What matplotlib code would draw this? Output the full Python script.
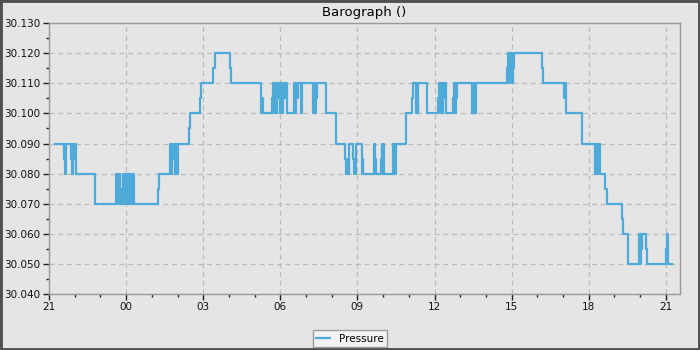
# Barograph: 24h pressure trace drawn as a step line
from datetime import datetime, timedelta

import matplotlib
matplotlib.use("Agg")
from matplotlib import pyplot as plt
from matplotlib import dates as mdates
from matplotlib.patches import Rectangle
from matplotlib.ticker import MultipleLocator, FormatStrFormatter

# hours after 21:00 on the first day, and the reading that starts there (inHg)
hours = [
    0.23, 0.59, 0.62, 0.66, 0.86, 0.89, 0.91, 0.94, 0.97, 1.00, 1.04, 1.79,
    2.61, 2.65, 2.68, 2.72, 2.75, 2.78, 2.82, 2.89, 2.92, 2.95, 2.98, 3.02,
    3.06, 3.09, 3.13, 3.17, 3.21, 3.25, 3.29,
    4.25, 4.29, 4.70, 4.74, 4.78, 4.82, 4.86, 4.90, 4.94, 4.98, 5.02,
    5.45, 5.49, 5.88, 5.92, 6.40, 6.45, 7.05, 7.10,
    8.24, 8.27, 8.31, 8.66, 8.70, 8.74, 8.80, 8.84, 8.88, 8.92, 8.96, 9.00,
    9.04, 9.08, 9.12, 9.16, 9.21, 9.25,
    9.53, 9.57, 9.61, 9.65, 9.68, 9.82, 9.86,
    10.29, 10.33, 10.36, 10.40, 10.44, 10.78, 11.18,
    11.52, 11.55, 11.62, 11.66, 11.69, 11.84, 11.87, 11.93,
    12.17, 12.20, 12.23, 12.66, 12.69, 12.72, 12.92, 12.94, 12.97, 13.00, 13.02,
    13.37, 13.41, 13.44, 13.48, 13.51, 13.90,
    14.12, 14.16, 14.28, 14.31, 14.34, 14.37, 14.72,
    15.15, 15.19, 15.22, 15.26, 15.30, 15.34, 15.38, 15.42, 15.46,
    15.71, 15.74, 15.78, 15.82, 15.85, 15.87,
    16.45, 16.49, 16.52, 16.56, 16.59, 16.63,
    17.83, 17.86, 17.89, 17.92, 17.95, 17.99, 18.02, 18.06, 18.09,
    19.17, 19.22, 20.04, 20.07, 20.10, 20.13, 20.72,
    21.25, 21.28, 21.31, 21.34, 21.38, 21.41, 21.44, 21.65, 21.70,
    22.28, 22.32, 22.52, 22.97, 23.00, 23.03, 23.06, 23.09, 23.23, 23.28,
    24.00, 24.05, 24.09, 24.23,
]
pressure = [
    30.090, 30.085, 30.080, 30.090, 30.085, 30.090, 30.080, 30.090, 30.085, 30.090, 30.080, 30.070,
    30.080, 30.070, 30.080, 30.070, 30.080, 30.075, 30.070, 30.080, 30.070, 30.080, 30.070, 30.080,
    30.070, 30.080, 30.070, 30.080, 30.070, 30.080, 30.070,
    30.075, 30.080, 30.090, 30.080, 30.090, 30.085, 30.090, 30.080, 30.090, 30.080, 30.090,
    30.095, 30.100, 30.105, 30.110, 30.115, 30.120, 30.115, 30.110,
    30.100, 30.105, 30.100, 30.105, 30.110, 30.100, 30.110, 30.100, 30.110, 30.105, 30.110, 30.100,
    30.110, 30.100, 30.110, 30.105, 30.110, 30.100,
    30.110, 30.100, 30.110, 30.105, 30.110, 30.100, 30.110,
    30.100, 30.110, 30.100, 30.105, 30.110, 30.100, 30.090,
    30.085, 30.080, 30.085, 30.080, 30.090, 30.085, 30.080, 30.090,
    30.080, 30.085, 30.080, 30.090, 30.085, 30.080, 30.085, 30.090, 30.080, 30.090, 30.080,
    30.090, 30.080, 30.090, 30.080, 30.090, 30.100,
    30.105, 30.110, 30.100, 30.105, 30.100, 30.110, 30.100,
    30.105, 30.110, 30.100, 30.110, 30.100, 30.110, 30.105, 30.110, 30.100,
    30.105, 30.110, 30.100, 30.110, 30.105, 30.110,
    30.100, 30.110, 30.100, 30.110, 30.100, 30.110,
    30.115, 30.120, 30.110, 30.120, 30.115, 30.120, 30.110, 30.115, 30.120,
    30.115, 30.110, 30.105, 30.110, 30.105, 30.100, 30.090,
    30.080, 30.090, 30.080, 30.090, 30.080, 30.090, 30.080, 30.075, 30.070,
    30.065, 30.060, 30.050, 30.060, 30.050, 30.060, 30.055, 30.060, 30.055, 30.050,
    30.055, 30.060, 30.050, 30.050,
]
assert len(hours) == len(pressure)

start = datetime(2024, 1, 1, 21, 0)
times = [start + timedelta(hours=h) for h in hours]

bg = "#e5e5e5"
line_color = "#4eaad8"

fig = plt.figure(figsize=(7, 3.5), dpi=100, facecolor=bg)
ax = fig.add_axes([0.07, 0.16, 0.9014, 0.774], facecolor=bg)

ax.plot(times, pressure, drawstyle="steps-post", color=line_color,
        lw=1.6, label="Pressure")

ax.set_xlim(start, start + timedelta(hours=24.55))
ax.set_ylim(30.04, 30.13)

ax.xaxis.set_major_locator(mdates.HourLocator(byhour=range(0, 24, 3)))
ax.xaxis.set_major_formatter(mdates.DateFormatter("%H"))
ax.xaxis.set_minor_locator(mdates.HourLocator())
ax.yaxis.set_major_locator(MultipleLocator(0.01))
ax.yaxis.set_major_formatter(FormatStrFormatter("%.3f"))
ax.yaxis.set_minor_locator(MultipleLocator(0.005))

ax.tick_params(which="major", length=4, width=1, color="#222222",
               labelsize=7.5, pad=2, labelcolor="#111111")
ax.tick_params(which="minor", length=2.5, width=1, color="#222222")

ax.grid(which="major", color="#bcbcbc", linestyle=(0, (4, 3)), lw=0.9)
ax.set_axisbelow(True)
for side in ax.spines.values():
    side.set_color("#999999")
    side.set_linewidth(1)

ax.set_title("Barograph ()", fontsize=9.5, pad=5)

leg = fig.legend(loc="lower center", bbox_to_anchor=(0.5, 0.008),
                 fontsize=7.5, frameon=True, fancybox=False, borderpad=0.35,
                 handlelength=1.3, handletextpad=0.9, borderaxespad=0)
leg.get_frame().set_facecolor("#f7f7f7")
leg.get_frame().set_edgecolor("#888888")
leg.get_frame().set_linewidth(1)

# dark frame round the whole picture
fig.patches.append(Rectangle((0, 0), 1, 1, transform=fig.transFigure,
                             fill=False, edgecolor="#505050", lw=3.5))

fig.savefig("out.png", dpi=100, facecolor=bg)
